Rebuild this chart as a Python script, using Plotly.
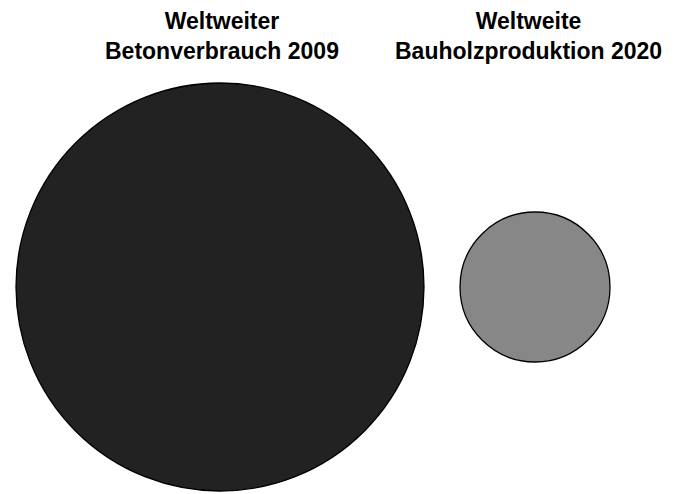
import plotly.graph_objects as go

# Relative volumes read from circle areas (area ratio ~7.4 : 1)
labels = ["Weltweiter<br>Betonverbrauch 2009", "Weltweite<br>Bauholzproduktion 2020"]
values = [7.4, 1.0]
colors = ["#222222", "#878787"]

BIG_DIAMETER = 408  # px for the largest value
sizeref = 2 * max(values) / BIG_DIAMETER ** 2

x_pos = list(range(len(labels)))

fig = go.Figure()
fig.add_trace(go.Scatter(
    x=x_pos, y=[0] * len(values),
    mode="markers",
    marker=dict(size=values, sizemode="area", sizeref=sizeref, opacity=1,
                color=colors, line=dict(color="black", width=1.3)),
    hoverinfo="skip", showlegend=False,
))

for i, lab in enumerate(labels):
    fig.add_annotation(
        x=x_pos[i], y=0.943, xref="x", yref="paper",
        text=f"<b>{lab}</b>", showarrow=False,
        xshift=[2, -7][i],
        font=dict(family="Liberation Sans Narrow, Arial Narrow, Liberation Sans, sans-serif",
                  size=23, color="black"),
        align="center", yanchor="middle",
    )

# page body adds an 8px offset, ranges compensate for it
fig.update_layout(
    width=682, height=494,
    margin=dict(l=0, r=0, t=0, b=0),
    paper_bgcolor="white", plot_bgcolor="white",
    xaxis=dict(range=[-0.673, 1.492], visible=False, fixedrange=True),
    yaxis=dict(range=[-215, 279], visible=False, fixedrange=True),
)

fig.write_html("out.html")
